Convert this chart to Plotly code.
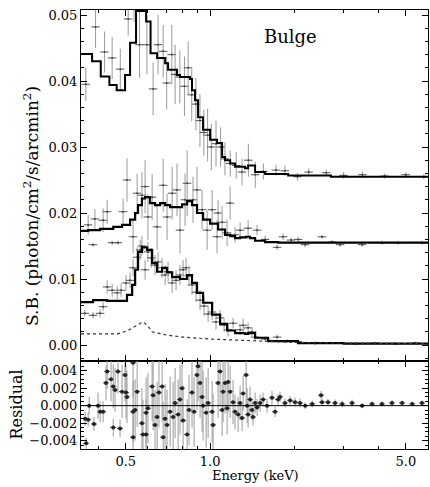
import math
import plotly.graph_objects as go

# ---------------- data ----------------
# Top spectrum (offset) : model histogram (left bin edges) and data
top_model_E = [0.346, 0.379, 0.407, 0.437, 0.464, 0.497, 0.518, 0.544, 0.591, 0.613, 0.647, 0.691,
               0.708, 0.762, 0.781, 0.848, 0.862, 0.884, 0.906, 0.944, 1.0, 1.059, 1.104, 1.131,
               1.18, 1.228, 1.333, 1.367, 1.448, 1.572, 1.9, 2.7, 6.0]
top_model_V = [0.0441, 0.0430, 0.0407, 0.0394, 0.0386, 0.0409, 0.0458, 0.0506, 0.0490, 0.0442, 0.0435,
               0.0427, 0.0417, 0.0409, 0.0406, 0.0403, 0.0386, 0.0371, 0.0345, 0.0326, 0.0311, 0.0306,
               0.0285, 0.0280, 0.0275, 0.0270, 0.0268, 0.0272, 0.0262, 0.0259, 0.0257, 0.0255, 0.0255]
top_E = [0.36, 0.39, 0.42, 0.447, 0.478, 0.51, 0.535, 0.56, 0.595, 0.626, 0.652, 0.68, 0.70, 0.73,
         0.75, 0.78, 0.81, 0.835, 0.86, 0.89, 0.92, 0.95, 0.98, 1.01, 1.05, 1.09, 1.13, 1.18, 1.24,
         1.30, 1.37, 1.45, 1.55, 1.72, 1.85, 2.05, 2.25, 2.6, 3.0, 3.5, 4.2, 5.0, 5.8]
top_V = [0.0395, 0.0482, 0.0444, 0.0435, 0.0418, 0.0494, 0.0530, 0.0455, 0.0455, 0.0388, 0.0455,
         0.0445, 0.0397, 0.0440, 0.0410, 0.0406, 0.0392, 0.0420, 0.0379, 0.0365, 0.0340, 0.0322,
         0.0318, 0.0300, 0.0305, 0.0300, 0.0282, 0.0275, 0.0272, 0.0262, 0.0280, 0.0258, 0.0263,
         0.0265, 0.0264, 0.0255, 0.0262, 0.0261, 0.0257, 0.0258, 0.0256, 0.0258, 0.0255]
top_err = [0.0025, 0.0032, 0.0031, 0.0032, 0.0031, 0.0025, 0.0040, 0.0050, 0.0045, 0.0040, 0.0045,
           0.0040, 0.0040, 0.0045, 0.0045, 0.0040, 0.0045, 0.0040, 0.0040, 0.0040, 0.0040, 0.0035,
           0.0040, 0.0035, 0.0035, 0.0030, 0.0025, 0.0020, 0.0020, 0.0020, 0.0025, 0.0020, 0.0012,
           0.0008, 0.0008, 0.0006, 0.0006, 0.0005, 0.0005, 0.0005, 0.0004, 0.0004, 0.0004]

# Middle spectrum
mid_model_E = [0.346, 0.367, 0.405, 0.451, 0.485, 0.518, 0.540, 0.553, 0.571, 0.586, 0.610, 0.636,
               0.663, 0.691, 0.720, 0.762, 0.794, 0.828, 0.862, 0.898, 0.944, 1.0, 1.068, 1.131,
               1.18, 1.228, 1.28, 1.345, 1.389, 1.448, 1.572, 1.75, 2.06, 3.0, 6.0]
mid_model_V = [0.0173, 0.0174, 0.0176, 0.0179, 0.0182, 0.0190, 0.0200, 0.0212, 0.0222, 0.0224,
               0.0215, 0.0212, 0.0215, 0.0212, 0.0209, 0.0209, 0.0213, 0.0218, 0.0212, 0.0200,
               0.0190, 0.0184, 0.0175, 0.0167, 0.0165, 0.0162, 0.0163, 0.0164, 0.0162, 0.0158,
               0.0156, 0.0155, 0.0155, 0.0155, 0.0155]
mid_E = [0.367, 0.382, 0.388, 0.415, 0.429, 0.447, 0.469, 0.489, 0.505, 0.531, 0.549, 0.571, 0.586,
         0.600, 0.621, 0.647, 0.680, 0.702, 0.732, 0.762, 0.781, 0.814, 0.828, 0.869, 0.898, 0.936,
         0.976, 1.017, 1.059, 1.068, 1.104, 1.150, 1.179, 1.228, 1.280, 1.367, 1.472, 1.572, 1.735,
         1.823, 1.947, 2.062, 2.185, 2.51, 2.727, 2.914, 3.49, 4.111, 4.69, 5.71]
mid_V = [0.0182, 0.0152, 0.0191, 0.0189, 0.0202, 0.0155, 0.0155, 0.0202, 0.0250, 0.0164, 0.0230,
         0.0227, 0.0240, 0.0194, 0.0224, 0.0179, 0.0242, 0.0194, 0.0230, 0.0235, 0.0174, 0.0220,
         0.0245, 0.0220, 0.0235, 0.0205, 0.0174, 0.0205, 0.0164, 0.0200, 0.0186, 0.0170, 0.0215,
         0.0167, 0.0174, 0.0177, 0.0174, 0.0160, 0.0148, 0.0164, 0.0159, 0.0160, 0.0152, 0.0164,
         0.0156, 0.0152, 0.0152, 0.0155, 0.0155, 0.0155]
mid_err = [0.0015, 0.0003, 0.0015, 0.0018, 0.0018, 0.0003, 0.0003, 0.0020, 0.0033, 0.0025, 0.0030,
           0.0035, 0.0040, 0.0035, 0.0035, 0.0035, 0.0040, 0.0035, 0.0040, 0.0040, 0.0035, 0.0040,
           0.0050, 0.0035, 0.0035, 0.0030, 0.0030, 0.0030, 0.0025, 0.0020, 0.0025, 0.0020, 0.0025,
           0.0012, 0.0012, 0.0012, 0.0008, 0.0006, 0.0004, 0.0005, 0.0004, 0.0004, 0.0004, 0.0003,
           0.0003, 0.0003, 0.0003, 0.0003, 0.0003, 0.0003]

# Bottom spectrum
bot_model_E = [0.346, 0.382, 0.429, 0.469, 0.505, 0.527, 0.540, 0.553, 0.571, 0.596, 0.621, 0.647,
               0.674, 0.702, 0.732, 0.781, 0.828, 0.862, 0.898, 0.944, 1.017, 1.086, 1.150, 1.228,
               1.333, 1.367, 1.448, 1.611, 2.06, 3.0, 6.0]
bot_model_V = [0.0065, 0.0068, 0.0067, 0.0067, 0.0076, 0.0091, 0.0114, 0.0141, 0.0148, 0.0144,
               0.0124, 0.0111, 0.0117, 0.0110, 0.0103, 0.0100, 0.0106, 0.0094, 0.0079, 0.0064,
               0.0046, 0.0032, 0.0022, 0.0018, 0.0017, 0.0018, 0.0011, 0.0006, 0.0003, 0.0002, 0.0002]
comp_E = [0.346, 0.469, 0.51, 0.55, 0.576, 0.60, 0.621, 0.70, 0.80, 1.0, 1.3, 1.6, 2.0, 3.0, 6.0]
comp_V = [0.0017, 0.0017, 0.0022, 0.0030, 0.0035, 0.0029, 0.0020, 0.0015, 0.0012, 0.0009, 0.0007,
          0.0005, 0.0004, 0.0003, 0.0002]
bot_E = [0.357, 0.382, 0.405, 0.415, 0.429, 0.447, 0.466, 0.481, 0.501, 0.518, 0.531, 0.549, 0.563,
         0.571, 0.586, 0.600, 0.616, 0.636, 0.652, 0.674, 0.691, 0.708, 0.732, 0.756, 0.781, 0.801,
         0.821, 0.841, 0.862, 0.891, 0.921, 0.952, 0.984, 1.017, 1.050, 1.085, 1.122, 1.160, 1.208,
         1.280, 1.312, 1.367, 1.412, 1.448, 1.572, 1.735, 1.883, 2.062, 2.371, 2.727, 3.293, 3.885,
         4.575, 5.40]
bot_V = [0.0048, 0.0045, 0.0048, 0.0058, 0.0088, 0.0083, 0.0079, 0.0083, 0.0094, 0.0098, 0.0117,
         0.0133, 0.0144, 0.0150, 0.0114, 0.0141, 0.0132, 0.0121, 0.0126, 0.0117, 0.0106, 0.0111,
         0.0094, 0.0098, 0.0106, 0.0114, 0.0117, 0.0105, 0.0091, 0.0080, 0.0068, 0.0059, 0.0047,
         0.0050, 0.0035, 0.0041, 0.0030, 0.0023, 0.0033, 0.0023, 0.0030, 0.0026, 0.0020, 0.0012,
         0.0009, 0.0012, 0.0006, 0.0005, 0.0003, 0.0003, 0.0002, 0.0003, 0.0002, 0.0003]
bot_err = [0.0005, 0.0005, 0.0006, 0.0007, 0.0010, 0.0010, 0.0010, 0.0010, 0.0012, 0.0012, 0.0013,
           0.0015, 0.0015, 0.0015, 0.0015, 0.0015, 0.0015, 0.0015, 0.0015, 0.0015, 0.0015, 0.0015,
           0.0015, 0.0015, 0.0015, 0.0015, 0.0015, 0.0015, 0.0015, 0.0015, 0.0015, 0.0015, 0.0012,
           0.0012, 0.0012, 0.0012, 0.0010, 0.0010, 0.0008, 0.0008, 0.0010, 0.0008, 0.0006, 0.0005,
           0.0004, 0.0004, 0.0003, 0.0003, 0.0003, 0.0002, 0.0002, 0.0002, 0.0002, 0.0002]

# Residuals
res_E = [0.358, 0.361, 0.367, 0.370, 0.385, 0.398, 0.405, 0.415, 0.425, 0.429, 0.443, 0.451, 0.451,
         0.458, 0.469, 0.477, 0.485, 0.497, 0.501, 0.505, 0.531, 0.531, 0.540, 0.531, 0.549, 0.571,
         0.576, 0.591, 0.591, 0.600, 0.621, 0.626, 0.636, 0.647, 0.657, 0.674, 0.680, 0.691, 0.702,
         0.720, 0.738, 0.750, 0.769, 0.781, 0.794, 0.801, 0.828, 0.841, 0.862, 0.877, 0.898, 0.906,
         0.921, 0.936, 0.944, 0.968, 0.984, 1.017, 1.025, 1.068, 1.086, 1.104, 1.113, 1.131, 1.150,
         1.160, 1.179, 1.208, 1.228, 1.259, 1.280, 1.301, 1.312, 1.345, 1.356, 1.367, 1.389, 1.412,
         1.424, 1.448, 1.472, 1.509, 1.546, 1.598, 1.664, 1.706, 1.749, 1.778, 1.852, 1.931, 2.011,
         2.095, 2.185, 2.315, 2.490, 2.510, 2.637, 2.795, 2.963, 3.214, 3.490, 3.788, 4.111, 4.463,
         4.85, 5.27, 5.71]
res_V = [-0.0015, -0.0043, -0.0016, 0.0000, -0.0021, 0.0000, -0.0007, -0.0007, 0.0026, 0.0039,
         0.0030, 0.0022, -0.0025, 0.0018, 0.0039, -0.0026, 0.0016, 0.0035, 0.0015, 0.0010, 0.0049,
         -0.0007, -0.0005, -0.0036, 0.0016, -0.0020, -0.0033, -0.0033, -0.0008, -0.0003, 0.0022,
         0.0012, -0.0022, -0.0013, 0.0015, 0.0022, -0.0036, -0.0015, -0.0022, -0.0007, -0.0013,
         0.0003, -0.0010, 0.0007, 0.0020, -0.0017, -0.0033, -0.0005, 0.0015, -0.0007, 0.0035,
         0.0045, 0.0026, 0.0010, 0.0000, -0.0008, 0.0003, -0.0007, -0.0022, 0.0026, 0.0039, -0.0005,
         0.0016, 0.0026, -0.0003, 0.0027, 0.0016, 0.0004, -0.0007, -0.0010, 0.0003, -0.0014, 0.0014,
         0.0035, 0.0000, -0.0010, 0.0007, -0.0005, -0.0013, 0.0003, -0.0002, 0.0003, 0.0007, 0.0000,
         0.0009, -0.0007, 0.0007, 0.0010, 0.0003, 0.0006, 0.0004, 0.0003, 0.0000, 0.0002, 0.0012,
         0.0004, 0.0004, 0.0003, 0.0002, 0.0003, 0.0000, 0.0002, 0.0002, 0.0003, 0.0003, 0.0002,
         0.0003]
res_err = [0.0008, 0.0006, 0.0008, 0.0010, 0.0008, 0.0015, 0.0012, 0.0012, 0.0020, 0.0020, 0.0025,
           0.0025, 0.0010, 0.0025, 0.0025, 0.0010, 0.0030, 0.0030, 0.0030, 0.0030, 0.0040, 0.0035,
           0.0035, 0.0035, 0.0040, 0.0040, 0.0040, 0.0040, 0.0040, 0.0040, 0.0040, 0.0040, 0.0040,
           0.0040, 0.0040, 0.0040, 0.0040, 0.0040, 0.0040, 0.0040, 0.0040, 0.0040, 0.0040, 0.0040,
           0.0040, 0.0040, 0.0040, 0.0040, 0.0040, 0.0040, 0.0040, 0.0040, 0.0040, 0.0040, 0.0040,
           0.0040, 0.0040, 0.0035, 0.0035, 0.0040, 0.0040, 0.0030, 0.0035, 0.0035, 0.0030, 0.0035,
           0.0030, 0.0025, 0.0020, 0.0020, 0.0020, 0.0015, 0.0020, 0.0035, 0.0020, 0.0015, 0.0015,
           0.0012, 0.0010, 0.0012, 0.0010, 0.0010, 0.0008, 0.0008, 0.0008, 0.0006, 0.0006, 0.0006,
           0.0005, 0.0005, 0.0005, 0.0005, 0.0004, 0.0004, 0.0005, 0.0004, 0.0004, 0.0004, 0.0004,
           0.0004, 0.0003, 0.0003, 0.0003, 0.0003, 0.0003, 0.0003, 0.0003]

x_tick_vals = [0.5, 1.0, 5.0]
x_tick_text = ["0.5", "1.0", "5.0"]
x_minor_vals = [0.4, 0.6, 0.7, 0.8, 0.9, 2, 3, 4, 6]
main_tick_vals = [0.00, 0.01, 0.02, 0.03, 0.04, 0.05]
res_tick_vals = [-0.004, -0.002, 0.0, 0.002, 0.004]
E_MIN, E_MAX = 0.346, 6.0

FONT = "DejaVu Serif"
ERRC = "#9a9a9a"

fig = go.Figure()


def data_trace(E, V, err, xa, ya, msize=2, mcolor="#444", xpct=3.5):
    return go.Scatter(
        x=E, y=V, mode="markers", xaxis=xa, yaxis=ya, showlegend=False,
        marker=dict(size=msize, color=mcolor, line=dict(width=0)),
        error_y=dict(type="data", array=err, visible=True, color=ERRC, thickness=1, width=0),
        error_x=dict(type="percent", value=xpct, visible=True, color="#555", thickness=1, width=0),
    )


fig.add_trace(data_trace(top_E, top_V, top_err, "x", "y"))
fig.add_trace(data_trace(mid_E, mid_V, mid_err, "x", "y"))
fig.add_trace(data_trace(bot_E, bot_V, bot_err, "x", "y"))

fig.add_trace(go.Scatter(x=top_model_E, y=top_model_V, mode="lines", line_shape="hv",
                         line=dict(color="black", width=2), xaxis="x", yaxis="y", showlegend=False))
fig.add_trace(go.Scatter(x=mid_model_E, y=mid_model_V, mode="lines", line_shape="hv",
                         line=dict(color="black", width=2.2), xaxis="x", yaxis="y", showlegend=False))
fig.add_trace(go.Scatter(x=bot_model_E, y=bot_model_V, mode="lines", line_shape="hv",
                         line=dict(color="black", width=2.2), xaxis="x", yaxis="y", showlegend=False))
fig.add_trace(go.Scatter(x=comp_E, y=comp_V, mode="lines",
                         line=dict(color="#333", width=1.2, dash="dot"), xaxis="x", yaxis="y",
                         showlegend=False))

fig.add_trace(data_trace(res_E, res_V, res_err, "x2", "y2", msize=4, mcolor="#222", xpct=2.5))

fig.add_shape(type="line", xref="x2 domain", x0=0, x1=1, yref="y2", y0=0, y1=0,
              line=dict(color="black", width=1))

xr = [math.log10(E_MIN), math.log10(E_MAX)]
axis_common = dict(showline=True, linecolor="black", linewidth=1, mirror="ticks", ticks="inside",
                   ticklen=6, tickwidth=1, tickcolor="black", showgrid=False, zeroline=False,
                   tickfont=dict(family=FONT, size=13, color="black"))

fig.update_layout(
    width=430, height=487,
    margin=dict(l=81, r=2, t=10, b=38),
    paper_bgcolor="white", plot_bgcolor="white",
    xaxis=dict(type="log", range=xr, domain=[0, 1], anchor="y", tickvals=x_tick_vals,
               showticklabels=False,
               minor=dict(tickvals=x_minor_vals, ticklen=3, ticks="inside", tickcolor="black"),
               **axis_common),
    xaxis2=dict(type="log", range=xr, domain=[0, 1], anchor="y2", tickvals=x_tick_vals,
                ticktext=x_tick_text,
                minor=dict(tickvals=x_minor_vals, ticklen=3, ticks="inside", tickcolor="black"),
                **axis_common),
    yaxis=dict(domain=[0.2005, 1], range=[-0.00242, 0.05076], anchor="x", tickvals=main_tick_vals,
               tickformat=".2f", minor=dict(dtick=0.002, ticklen=3, ticks="inside", tickcolor="black"),
               **axis_common),
    yaxis2=dict(domain=[0, 0.2005], range=[-0.00495, 0.0051], anchor="x2", tickvals=res_tick_vals,
                tickformat=".3f", minor=dict(dtick=0.0005, ticklen=3, ticks="inside", tickcolor="black"),
                **axis_common),
    annotations=[
        dict(text="Bulge", xref="paper", yref="paper", x=0.605, y=0.9385, showarrow=False,
             xanchor="center", yanchor="middle", font=dict(family=FONT, size=18, color="black")),
        dict(text="S.B. (photon/cm<sup>2</sup>/s/arcmin<sup>2</sup>)", xref="paper", yref="paper",
             x=-0.144, y=0.5535, showarrow=False, textangle=-90, xanchor="center", yanchor="middle",
             font=dict(family=FONT, size=17, color="black")),
        dict(text="Residual", xref="paper", yref="paper", x=-0.186, y=0.1025, showarrow=False,
             textangle=-90, xanchor="center", yanchor="middle",
             font=dict(family=FONT, size=16, color="black")),
        dict(text="Energy (keV)", xref="paper", yref="paper", x=0.504, y=-0.0615, showarrow=False,
             xanchor="center", yanchor="middle", font=dict(family=FONT, size=13, color="black")),
    ],
)

fig.write_html("out.html")
